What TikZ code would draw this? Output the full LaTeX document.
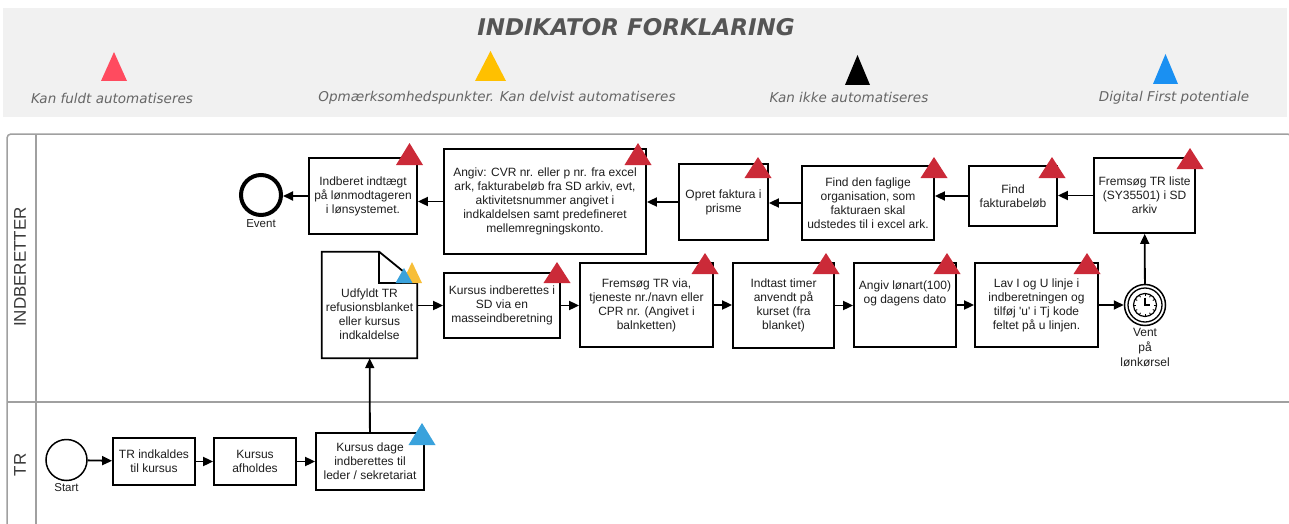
\documentclass[tikz,border=0pt]{standalone}
\usepackage{fontspec}
\setmainfont{Liberation Sans}[Ligatures=TeXOff]
\newfontfamily\legfont{DejaVu Sans}
\usetikzlibrary{arrows.meta,calc}

\definecolor{legbg}{HTML}{F1F1F1}
\definecolor{legtxt}{HTML}{666666}
\definecolor{titletxt}{HTML}{555555}
\definecolor{lanegrey}{HTML}{A0A0A0}
\definecolor{lanetxt}{HTML}{3A3A3A}
\definecolor{txt}{HTML}{1E1E1E}
\definecolor{legred}{HTML}{FF4B5F}
\definecolor{legyellow}{HTML}{FFC000}
\definecolor{legblue}{HTML}{1A90F2}
\definecolor{flagred}{HTML}{CB2A38}
\definecolor{flagblue}{HTML}{3AA2DC}
\definecolor{flagyellow}{HTML}{F7BE38}

% triangle marker: colour, centre x, apex y, base y, half width
\newcommand\marker[5]{\fill[#1] (#2-#5,#4) -- (#2,#3) -- (#2+#5,#4) -- cycle;}

\begin{document}
\begin{tikzpicture}[x=1pt,y=-1pt,
  box/.style={draw=black, line width=1.8pt, fill=white, align=center,
    inner sep=0pt, text=txt, font=\fontsize{12}{14}\selectfont},
  flow/.style={line width=1.8pt, -{Triangle[length=10pt,width=9pt]}},
  legtext/.style={font=\legfont\itshape\fontsize{13.5}{16}\selectfont, text=legtxt},
  evlabel/.style={font=\fontsize{11.5}{14}\selectfont, text=txt, align=center},
  lanelabel/.style={rotate=90, font=\fontsize{17}{20}\selectfont, text=lanetxt}]

\useasboundingbox (0,0) rectangle (1289,524);

% ---------- legend ----------
\fill[legbg] (3,8) rectangle (1287,117);
\node[font=\legfont\bfseries\itshape\fontsize{23}{26}\selectfont, text=titletxt] (title) at (636,27) {INDIKATOR FORKLARING};
\marker{legred}{114}{52}{81}{13}
\marker{legyellow}{490.5}{51}{81}{15.5}
\marker{black}{857.5}{55}{85}{12.5}
\marker{legblue}{1165.5}{54}{84}{12.5}
\node[legtext] (leg1) at (112,98) {Kan fuldt automatiseres};
\node[legtext] (leg2) at (497,98) {Opmærksomhedspunkter. Kan delvist automatiseres};
\node[legtext] (leg3) at (849,97) {Kan ikke automatiseres};
\node[legtext] (leg4) at (1174,98) {Digital First potentiale};

% ---------- pool and lanes ----------
\draw[lanegrey, line width=1.5pt, rounded corners=4pt] (7,560) -- (7,134) -- (1291.5,134) -- (1291.5,560);
\draw[lanegrey, line width=1.5pt] (36,134) -- (36,560);
\draw[lanegrey, line width=1.5pt] (7,402) -- (1289,402);
\node[lanelabel] (laneA) at (20,267) {INDBERETTER};
\node[lanelabel] (laneB) at (20,465) {TR};

% ---------- INDBERETTER lane, upper row ----------
\node[draw=black, line width=4pt, circle, minimum size=40pt, inner sep=0pt] (ev) at (261,195) {};
\node[evlabel] (evl) at (261,224) {Event};
\node[box, minimum width=108, minimum height=76] (A) at (363,196) {Indberet indtægt\\på lønmodtageren\\i lønsystemet.};
\node[box, minimum width=202, minimum height=105] (B) at (545,201.5) {Angiv: CVR nr. eller p nr. fra excel\\ark, fakturabeløb fra SD arkiv, evt,\\aktivitetsnummer angivet i\\indkaldelsen samt predefineret\\mellemregningskonto.};
\node[box, minimum width=89, minimum height=76] (C) at (723.5,202) {Opret faktura i\\prisme};
\node[box, minimum width=132, minimum height=74] (D) at (868,203) {Find den faglige\\organisation, som\\fakturaen skal\\udstedes til i excel ark.};
\node[box, minimum width=88, minimum height=60] (E) at (1013,196) {Find\\fakturabeløb};
\node[box, minimum width=101, minimum height=75] (F) at (1144.5,195.5) {Fremsøg TR liste\\(SY35501) i SD\\arkiv};

% ---------- INDBERETTER lane, lower row ----------
\node[minimum width=95, minimum height=106, inner sep=0pt] (doc) at (369.5,305) {};
\draw[line width=1.8pt, fill=white, line join=miter]
  (doc.north west) -- ([xshift=-38pt]doc.north east) -- ([yshift=-31pt]doc.north east)
  -- (doc.south east) -- (doc.south west) -- cycle;
\draw[line width=1.8pt] ([xshift=-38pt]doc.north east) -- ([xshift=-38pt,yshift=-31pt]doc.north east) -- ([yshift=-31pt]doc.north east);
\node[align=center, text=txt, font=\fontsize{12}{14}\selectfont] (doctext) at ([yshift=-9pt]doc.center) {Udfyldt TR\\refusionsblanket\\eller kursus\\indkaldelse};
\marker{flagyellow}{412}{262}{283}{10}
\marker{flagblue}{404}{268}{283}{8.5}

\node[box, minimum width=116, minimum height=65] (G) at (502,305.5) {Kursus indberettes i\\SD via en\\masseindberetning};
\node[box, minimum width=133, minimum height=84] (H) at (646.5,305) {Fremsøg TR via,\\tjeneste nr./navn eller\\CPR nr. (Angivet i\\balnketten)};
\node[box, minimum width=101, minimum height=85] (I) at (783.5,305.5) {Indtast timer\\anvendt på\\kurset (fra\\blanket)};
\node[box, minimum width=102, minimum height=84] (J) at (905,305) {Angiv lønart(100)\\og dagens dato\\[12pt]};
\node[box, minimum width=123, minimum height=84] (K) at (1036.5,305) {Lav I og U linje i\\indberetningen og\\tilføj 'u' i Tj kode\\feltet på u linjen.};

% timer event
\node[draw=black, line width=1.5pt, circle, minimum size=41pt, inner sep=0pt, fill=white] (clk) at (1145,305) {};
\draw[line width=1.3pt] (clk.center) circle[radius=17pt];
\draw[line width=1.2pt] (clk.center) circle[radius=11.5pt];
\foreach \a in {0,30,...,330}
  \draw[line width=0.9pt] ($(clk.center)+(\a:9pt)$) -- ($(clk.center)+(\a:11.5pt)$);
\draw[line width=1.2pt] ([yshift=7.5pt]clk.center) -- (clk.center) -- ([xshift=5pt]clk.center);
\node[evlabel, font=\fontsize{12}{15}\selectfont] (clkl) at (1145,347) {Vent\\på\\lønkørsel};

% ---------- TR lane ----------
\node[draw=black, line width=1.5pt, circle, minimum size=41pt, inner sep=0pt] (st) at (66.5,460) {};
\node[evlabel] (stl) at (66.5,488) {Start};
\node[box, minimum width=82, minimum height=47] (T1) at (154,461.5) {TR indkaldes\\til kursus};
\node[box, minimum width=82, minimum height=47] (T2) at (255,461.5) {Kursus\\afholdes};
\node[box, minimum width=108, minimum height=57] (T3) at (370,461.5) {Kursus dage\\indberettes til\\leder / sekretariat};
\marker{flagblue}{422}{423}{445}{13.5}

% ---------- red markers ----------
\marker{flagred}{409.5}{143}{165}{13.5}
\marker{flagred}{638}{143}{165}{13.5}
\marker{flagred}{758}{157}{178}{13.5}
\marker{flagred}{934}{157}{178}{13.5}
\marker{flagred}{1052}{157}{178}{13.5}
\marker{flagred}{1190}{148}{169}{13.5}
\marker{flagred}{557}{262}{283}{13.5}
\marker{flagred}{705}{253}{274}{13.5}
\marker{flagred}{826}{253}{274}{13.5}
\marker{flagred}{947}{253}{274}{13.5}
\marker{flagred}{1087}{253}{274}{13.5}

% ---------- sequence flows ----------
\draw[flow] (st) -- (T1);
\draw[flow] (T1) -- (T2);
\draw[flow] (T2) -- (T3);
\draw[flow] (T3) -- (doc);
\draw[flow] (doc.east |- G.west) -- (G.west);
\draw[flow] (G) -- (G.east -| H.west);
\draw[flow] (H) -- (H.east -| I.west);
\draw[flow] (I) -- (I.east -| J.west);
\draw[flow] (J) -- (J.east -| K.west);
\draw[flow] (K) -- (K.east -| clk.west);
\draw[flow] (clk) -- (F);
\draw[flow] (F.west) -- (F.west -| E.east);
\draw[flow] (E.west) -- (E.west -| D.east);
\draw[flow] (D.west) -- (D.west -| C.east);
\draw[flow] (C.west) -- (C.west -| B.east);
\draw[flow] (B.west) -- (B.west -| A.east);
\draw[flow] (A.west) -- (A.west -| ev.east);
\end{tikzpicture}
\end{document}
